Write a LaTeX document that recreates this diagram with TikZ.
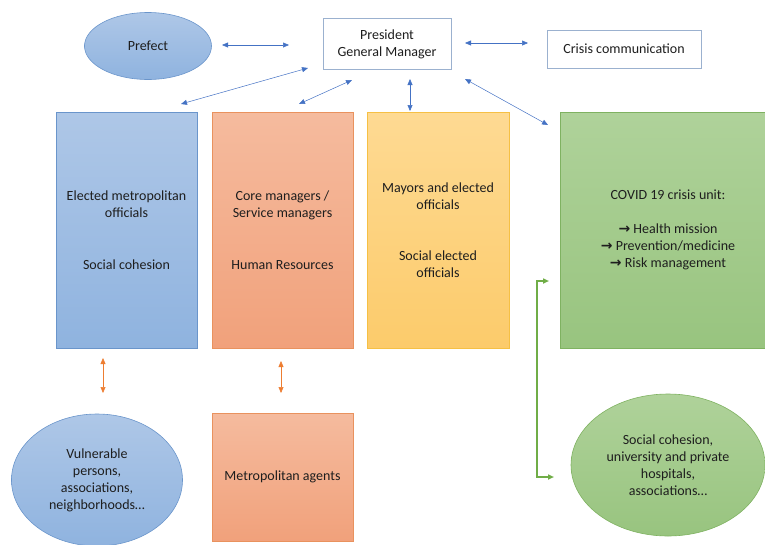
\documentclass[tikz,border=0pt]{standalone}
\usepackage{fontspec}
\setmainfont{Carlito}
\newfontfamily\arrowfont{DejaVu Sans}
\usetikzlibrary{shapes.geometric,arrows.meta}
\definecolor{txt}{HTML}{1E1E1E}
\definecolor{arrblue}{HTML}{4472C4}
\definecolor{arrorange}{HTML}{ED7D31}
\definecolor{arrgreen}{HTML}{70AD47}
\definecolor{bluetop}{HTML}{AEC7E7}
\definecolor{bluebot}{HTML}{8FB3DF}
\definecolor{blueedge}{HTML}{6A95CB}
\definecolor{orangetop}{HTML}{F5BB9E}
\definecolor{orangebot}{HTML}{F1A17B}
\definecolor{orangeedge}{HTML}{E9925E}
\definecolor{yellowtop}{HTML}{FEDA93}
\definecolor{yellowbot}{HTML}{FCCB6B}
\definecolor{yellowedge}{HTML}{F6C044}
\definecolor{greentop}{HTML}{AFD29A}
\definecolor{greenbot}{HTML}{98C47F}
\definecolor{greenedge}{HTML}{7FB261}
\definecolor{frameedge}{HTML}{9BB1CF}
\newcommand{\ar}{{\arrowfont\bfseries\fontsize{14}{17}\selectfont →}}
\tikzset{
  base/.style={inner sep=0pt, align=center, text=txt, font=\fontsize{14}{17}\selectfont},
  framebox/.style={base, draw=frameedge, line width=0.6pt, fill=white},
  bluebox/.style={base, draw=blueedge, line width=0.6pt, top color=bluetop, bottom color=bluebot},
  orangebox/.style={base, draw=orangeedge, line width=0.6pt, top color=orangetop, bottom color=orangebot},
  yellowbox/.style={base, draw=yellowedge, line width=0.6pt, top color=yellowtop, bottom color=yellowbot},
  greenbox/.style={base, draw=greenedge, line width=0.6pt, top color=greentop, bottom color=greenbot},
  oval/.style={ellipse},
  bluearrow/.style={draw=arrblue, line width=0.5pt, {Triangle[length=6pt,width=5pt]}-{Triangle[length=6pt,width=5pt]}},
  orangearrow/.style={draw=arrorange, line width=0.5pt, {Triangle[length=6pt,width=5pt]}-{Triangle[length=6pt,width=5pt]}},
  greenarrow/.style={draw=arrgreen, line width=1.5pt, {Triangle[length=6pt,width=5pt]}-{Triangle[length=6pt,width=5pt]}},
}
\begin{document}
\begin{tikzpicture}[x=1pt,y=-1pt]
\useasboundingbox (0,0) rectangle (765,544);
\begin{scope}
\clip (0,0) rectangle (765,544);
% top row
\node[bluebox, oval, minimum width=127pt, minimum height=67pt] (prefect) at (148,46) {Prefect};
\node[framebox, minimum width=128pt, minimum height=51pt] (pres) at (387,44) {President\\General Manager};
\node[framebox, minimum width=154pt, minimum height=38pt] (crisis) at (624,49) {Crisis communication};
% main boxes
\node[bluebox, minimum width=141pt, minimum height=236pt] (elected) at (126.5,230) {Elected metropolitan\\officials\\[35pt]Social cohesion};
\node[orangebox, minimum width=141pt, minimum height=236pt] (core) at (282.5,230) {Core managers /\\Service managers\\[35pt]Human Resources};
\node[yellowbox, minimum width=142pt, minimum height=236pt] (mayors) at (438,230) {Mayors and elected\\officials\\[34pt]Social elected\\officials};
\node[greenbox, minimum width=216pt, minimum height=236pt] (covid) at (668,230) {COVID 19 crisis unit:\\[17pt]\ar{} Health mission\\\ar{} Prevention/medicine\\\ar{} Risk management};
% bottom row
\node[bluebox, oval, minimum width=171pt, minimum height=132pt] (vuln) at (97,480) {Vulnerable\\persons,\\associations,\\neighborhoods\dots};
\node[orangebox, minimum width=141pt, minimum height=128pt] (agents) at (282.5,477) {Metropolitan agents};
\node[greenbox, oval, minimum width=194pt, minimum height=142pt] (socco) at (668,465) {Social cohesion,\\university and private\\hospitals,\\associations\dots};
% connector coordinates
\coordinate (p1) at (222,45);  \coordinate (p2) at (289,45);
\coordinate (c1) at (465,43);  \coordinate (c2) at (528,43);
\coordinate (d1a) at (308,68); \coordinate (d1b) at (181,104);
\coordinate (d2a) at (352,80); \coordinate (d2b) at (299,104);
\coordinate (d3a) at (410,79); \coordinate (d3b) at (410,111);
\coordinate (d4a) at (465,79); \coordinate (d4b) at (548,125);
\coordinate (o1a) at (103,358); \coordinate (o1b) at (103,393);
\coordinate (o2a) at (281,361); \coordinate (o2b) at (281,393);
\coordinate (g1) at (549,281); \coordinate (g2) at (554,477); \coordinate (gx) at (537,0);
% blue arrows
\draw[bluearrow] (p1) -- (p2);
\draw[bluearrow] (c1) -- (c2);
\draw[bluearrow] (d1a) -- (d1b);
\draw[bluearrow] (d2a) -- (d2b);
\draw[bluearrow] (d3a) -- (d3b);
\draw[bluearrow] (d4a) -- (d4b);
% orange arrows
\draw[orangearrow] (o1a) -- (o1b);
\draw[orangearrow] (o2a) -- (o2b);
% green bracket
\draw[greenarrow] (g1) -- (gx |- g1) -- (gx |- g2) -- (g2);
\end{scope}
\end{tikzpicture}
\end{document}
